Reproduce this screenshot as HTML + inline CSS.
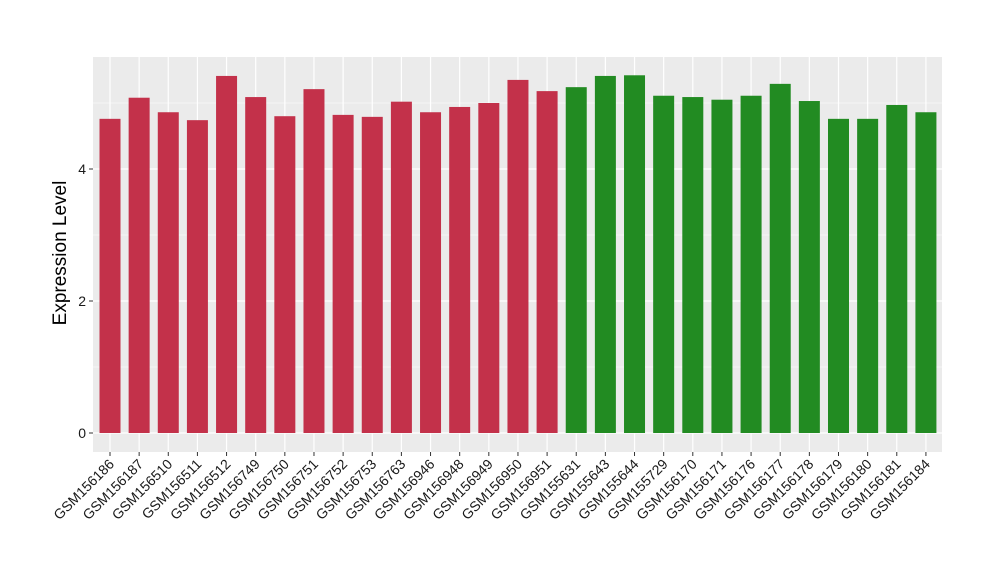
<!DOCTYPE html>
<html><head><meta charset="utf-8"><style>
body{margin:0;background:#fff;}
svg{display:block;font-family:"Liberation Sans",Arial,sans-serif;}
</style></head><body>
<svg id="chart" width="1000" height="580">
<rect x="93" y="57" width="849" height="395" fill="#EBEBEB"/>
<g id="grid"></g><g id="bars"></g><g id="yaxis"></g><g id="xaxis"></g>
<text x="0" y="0" transform="translate(72,253) rotate(-90)" text-anchor="middle" font-size="19" fill="#000" dy="-6">Expression Level</text>
</svg>
<script>
const categories=["GSM156186","GSM156187","GSM156510","GSM156511","GSM156512","GSM156749","GSM156750","GSM156751","GSM156752","GSM156753","GSM156763","GSM156946","GSM156948","GSM156949","GSM156950","GSM156951","GSM155631","GSM155643","GSM155644","GSM155729","GSM156170","GSM156171","GSM156176","GSM156177","GSM156178","GSM156179","GSM156180","GSM156181","GSM156184"];
const values=[4.76,5.08,4.86,4.74,5.41,5.09,4.80,5.21,4.82,4.79,5.02,4.86,4.94,5.00,5.35,5.18,5.24,5.41,5.42,5.11,5.09,5.05,5.11,5.29,5.03,4.76,4.76,4.97,4.86];
const groups=["a","a","a","a","a","a","a","a","a","a","a","a","a","a","a","a","b","b","b","b","b","b","b","b","b","b","b","b","b"];
const yTicks=[0,2,4];
const colors={a:"#C3314A",b:"#228B22"};
const NS="http://www.w3.org/2000/svg";
const y0=433,unit=66;
function yScale(v){return y0-v*unit;}
function xScale(i){return 110+i*29.14;}
function mk(t,a,p){const e=document.createElementNS(NS,t);for(const k in a)e.setAttribute(k,a[k]);p.appendChild(e);return e;}
const grid=document.getElementById('grid'),bars=document.getElementById('bars'),ya=document.getElementById('yaxis'),xa=document.getElementById('xaxis');
for(let v=-1;v<=5;v+=2){const y=yScale(v);if(y<57||y>452)continue;const l=mk('line',{x1:93,x2:942,y1:y,y2:y,stroke:'#fff','stroke-width':0.6},grid);

}
yTicks.forEach(v=>{const y=yScale(v);const l=mk('line',{x1:93,x2:942,y1:y,y2:y,stroke:'#fff','stroke-width':1.2},grid);


const t=mk('line',{x1:89,x2:93,y1:y,y2:y,stroke:'#333','stroke-width':1},ya);


const tx=mk('text',{x:86,y:y+5,'text-anchor':'end','font-size':14,fill:'#1A1A1A'},ya);tx.textContent=v;

});
categories.forEach((c,i)=>{const x=xScale(i);
const g=mk('line',{x1:x,x2:x,y1:57,y2:452,stroke:'#fff','stroke-width':1.2},grid);


const b=mk('rect',{x:x-10.5,width:21,y:yScale(values[i]),height:yScale(0)-yScale(values[i]),fill:colors[groups[i]]},bars);


const t=mk('line',{x1:x,x2:x,y1:452,y2:456,stroke:'#333','stroke-width':1},xa);


const tx=mk('text',{'text-anchor':'end','font-size':14,fill:'#1A1A1A',transform:'translate('+(x+5)+',465) rotate(-45)'},xa);tx.textContent=c;

});
</script>
</body></html>
